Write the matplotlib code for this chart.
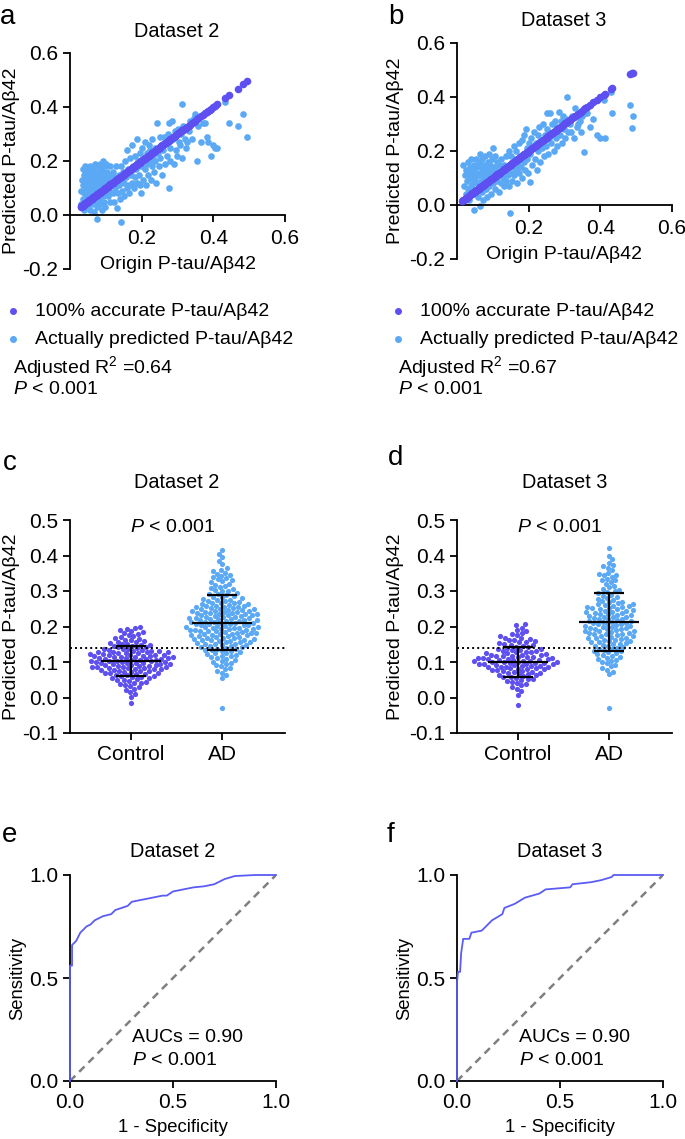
import numpy as np
import matplotlib
matplotlib.use('Agg')
import matplotlib.pyplot as plt
from matplotlib.lines import Line2D

plt.rcParams['font.family'] = ['Liberation Sans', 'DejaVu Sans']
plt.rcParams['mathtext.fontset'] = 'custom'
plt.rcParams['mathtext.rm'] = 'Liberation Sans'
plt.rcParams['mathtext.it'] = 'Liberation Sans:italic'

PURPLE = '#5E50F0'
BLUE = '#5BA9F5'
ROC_COL = '#5A5CF5'

########################################################################################################################
# DATA

# (origin, predicted) pairs, dataset 2
pts_a = [
    (0.030, 0.04), (0.032, 0.09), (0.033, 0.13), (0.035, 0.17), (0.035, 0.06), (0.037, 0.11), (0.038, 0.15),
    (0.040, 0.02), (0.040, 0.08), (0.041, 0.12), (0.042, 0.18), (0.043, 0.05), (0.044, 0.10), (0.045, 0.14),
    (0.046, 0.16), (0.047, 0.07), (0.048, 0.03), (0.049, 0.12), (0.050, 0.09), (0.050, 0.17), (0.051, 0.13),
    (0.052, 0.05), (0.053, 0.11), (0.054, 0.15), (0.055, 0.08), (0.055, 0.18), (0.056, 0.02), (0.057, 0.12),
    (0.058, 0.14), (0.059, 0.06), (0.060, 0.10), (0.060, 0.16),
    (0.061, 0.13), (0.062, 0.04), (0.063, 0.09), (0.064, 0.17), (0.065, 0.11), (0.066, 0.07), (0.067, 0.15),
    (0.068, 0.01), (0.068, 0.12), (0.069, 0.19), (0.070, 0.08), (0.071, 0.14), (0.072, 0.05), (0.073, 0.10),
    (0.074, 0.16), (0.075, -0.013), (0.075, 0.12), (0.076, 0.03), (0.077, 0.18), (0.078, 0.09), (0.079, 0.13),
    (0.080, 0.06), (0.081, 0.15), (0.082, 0.11), (0.083, 0.19), (0.084, 0.04), (0.085, 0.08), (0.086, 0.14),
    (0.087, 0.17), (0.088, 0.10), (0.089, 0.02), (0.090, 0.12),
    (0.091, 0.16), (0.092, 0.07), (0.093, 0.20), (0.094, 0.11), (0.095, 0.05), (0.096, 0.14), (0.097, 0.18),
    (0.098, 0.09), (0.099, 0.03), (0.100, 0.13), (0.101, 0.19), (0.102, 0.10), (0.104, 0.16), (0.105, 0.07),
    (0.106, 0.12), (0.108, 0.15), (0.110, 0.09), (0.111, 0.18), (0.113, 0.05), (0.115, 0.13), (0.117, 0.11),
    (0.119, 0.16), (0.120, 0.08),
    (0.122, 0.14), (0.124, 0.05), (0.126, 0.10), (0.128, 0.18), (0.130, 0.025), (0.132, 0.12), (0.134, 0.08),
    (0.136, 0.15), (0.138, 0.11), (0.140, 0.06), (0.142, -0.025), (0.142, 0.18), (0.144, 0.13), (0.146, 0.09),
    (0.148, 0.16), (0.150, 0.12), (0.152, 0.07), (0.154, 0.20), (0.156, 0.14), (0.158, 0.10), (0.160, 0.24),
    (0.162, 0.17), (0.164, 0.11), (0.166, 0.08), (0.168, 0.21), (0.170, 0.15), (0.172, 0.12), (0.174, 0.26),
    (0.176, 0.18), (0.178, 0.10), (0.180, 0.22), (0.182, 0.14), (0.184, 0.17), (0.186, 0.12), (0.188, 0.28),
    (0.190, 0.20), (0.192, 0.15), (0.194, 0.23), (0.196, 0.11), (0.197, 0.08), (0.199, 0.18),
    (0.202, 0.25), (0.204, 0.13), (0.206, 0.21), (0.208, 0.17), (0.210, 0.27), (0.212, 0.11), (0.214, 0.23),
    (0.216, 0.19), (0.218, 0.15), (0.220, 0.26), (0.222, 0.20), (0.224, 0.24), (0.226, 0.13), (0.228, 0.18),
    (0.230, 0.28), (0.232, 0.22), (0.234, 0.16), (0.236, 0.25), (0.238, 0.20), (0.240, 0.12), (0.243, 0.34),
    (0.245, 0.23), (0.247, 0.18), (0.250, 0.29), (0.252, 0.21), (0.255, 0.26), (0.258, 0.15), (0.260, 0.24),
    (0.262, 0.29), (0.265, 0.19), (0.268, 0.27), (0.270, 0.22), (0.273, 0.30), (0.275, 0.34), (0.276, 0.10),
    (0.278, 0.25), (0.280, 0.20),
    (0.285, 0.35), (0.288, 0.28), (0.290, 0.19), (0.292, 0.31), (0.294, 0.29), (0.297, 0.24), (0.299, 0.22),
    (0.302, 0.32), (0.305, 0.27), (0.308, 0.26), (0.310, 0.30), (0.313, 0.41), (0.313, 0.21), (0.316, 0.33),
    (0.320, 0.28), (0.323, 0.25), (0.327, 0.27), (0.331, 0.31), (0.335, 0.35), (0.340, 0.28), (0.345, 0.36),
    (0.350, 0.375), (0.355, 0.20), (0.358, 0.33),
    (0.365, 0.27), (0.370, 0.34), (0.378, 0.34), (0.382, 0.29), (0.386, 0.27), (0.390, 0.39), (0.393, 0.22),
    (0.400, 0.26), (0.405, 0.25), (0.410, 0.25), (0.433, 0.42), (0.443, 0.34), (0.468, 0.33), (0.484, 0.375),
    (0.495, 0.29),
]

# (origin, predicted) pairs, dataset 3
pts_b = [
    (0.015, 0.02), (0.018, 0.15), (0.020, 0.07), (0.022, 0.11), (0.024, 0.04), (0.026, 0.13), (0.028, 0.09),
    (0.030, 0.16), (0.031, 0.06), (0.033, 0.12), (0.034, 0.02), (0.036, 0.10), (0.037, 0.14), (0.039, 0.07),
    (0.040, 0.17), (0.042, 0.11), (0.043, 0.04), (0.045, 0.13), (0.046, 0.08), (0.047, -0.02), (0.048, 0.15),
    (0.050, 0.10), (0.051, 0.05), (0.053, 0.12), (0.054, 0.17), (0.056, 0.08), (0.057, 0.14), (0.058, 0.03),
    (0.060, 0.11),
    (0.061, 0.16), (0.062, 0.07), (0.063, 0.12), (0.065, -0.004), (0.065, 0.19), (0.066, 0.09), (0.067, 0.14),
    (0.069, 0.05), (0.070, 0.11), (0.071, 0.17), (0.072, 0.02), (0.073, 0.13), (0.075, 0.08), (0.076, 0.15),
    (0.077, 0.10), (0.079, 0.18), (0.080, 0.06), (0.081, 0.12), (0.082, 0.14), (0.084, 0.03), (0.085, 0.09),
    (0.086, 0.16), (0.088, 0.11), (0.089, 0.19), (0.090, 0.07), (0.092, 0.13), (0.093, 0.15), (0.095, 0.04),
    (0.096, 0.10), (0.097, 0.17), (0.098, 0.12), (0.100, 0.21),
    (0.101, 0.08), (0.102, 0.14), (0.104, 0.11), (0.105, 0.18), (0.107, 0.06), (0.108, 0.13), (0.110, 0.10),
    (0.111, 0.16), (0.113, 0.09), (0.115, 0.12), (0.116, 0.05), (0.118, 0.15), (0.120, 0.11), (0.122, 0.17),
    (0.124, 0.08), (0.126, 0.13), (0.128, 0.10), (0.130, 0.15), (0.132, 0.07), (0.134, 0.12), (0.136, 0.18),
    (0.138, 0.09), (0.140, 0.14),
    (0.142, 0.11), (0.144, 0.20), (0.146, 0.07), (0.147, -0.029), (0.148, 0.15), (0.150, 0.12), (0.152, 0.18),
    (0.154, 0.09), (0.156, 0.14), (0.158, 0.22), (0.160, 0.11), (0.162, 0.17), (0.164, 0.13), (0.166, 0.20),
    (0.168, 0.08), (0.170, 0.15), (0.172, 0.23), (0.174, 0.12), (0.176, 0.18), (0.178, 0.14), (0.180, 0.24),
    (0.182, 0.10), (0.184, 0.19), (0.186, 0.16), (0.188, 0.26), (0.190, 0.13), (0.192, 0.28), (0.194, 0.21),
    (0.196, 0.17), (0.198, 0.12), (0.200, 0.23),
    (0.203, 0.19), (0.205, 0.084), (0.207, 0.25), (0.210, 0.15), (0.212, 0.21), (0.215, 0.27), (0.217, 0.17),
    (0.220, 0.23), (0.222, 0.13), (0.225, 0.26), (0.227, 0.20), (0.230, 0.29), (0.232, 0.16), (0.235, 0.24),
    (0.237, 0.21), (0.240, 0.30), (0.242, 0.18), (0.245, 0.26), (0.247, 0.22), (0.250, 0.34), (0.252, 0.28),
    (0.255, 0.19), (0.258, 0.25), (0.260, 0.34), (0.262, 0.23), (0.265, 0.30), (0.268, 0.27), (0.270, 0.20),
    (0.273, 0.31), (0.275, 0.25), (0.278, 0.22), (0.280, 0.29),
    (0.284, 0.346), (0.287, 0.26), (0.290, 0.31), (0.293, 0.23), (0.296, 0.33), (0.299, 0.28), (0.302, 0.25),
    (0.305, 0.32), (0.307, 0.40), (0.310, 0.27), (0.314, 0.30), (0.318, 0.27), (0.322, 0.33), (0.326, 0.25),
    (0.330, 0.36), (0.334, 0.29), (0.338, 0.30), (0.342, 0.31), (0.346, 0.27), (0.350, 0.33), (0.354, 0.196),
    (0.358, 0.34),
    (0.363, 0.34), (0.372, 0.29), (0.380, 0.32), (0.390, 0.26), (0.400, 0.25), (0.409, 0.39), (0.412, 0.25),
    (0.430, 0.42), (0.432, 0.34), (0.484, 0.37), (0.488, 0.286), (0.490, 0.33),
]

adj_r2 = ['0.64', '0.67']

# predicted values per group
ctrl_c = [
    -0.015, 0.002, 0.010, 0.016, 0.021, 0.025, 0.029, 0.032, 0.035, 0.038,
    0.040, 0.042, 0.044, 0.046, 0.048, 0.050, 0.052, 0.054, 0.055, 0.057,
    0.058, 0.060, 0.061, 0.063, 0.064, 0.065, 0.067, 0.068, 0.069, 0.070,
    0.072, 0.073, 0.074, 0.075, 0.076, 0.077, 0.078, 0.079, 0.080, 0.081,
    0.082, 0.083, 0.084, 0.085, 0.086, 0.087, 0.088, 0.089, 0.090, 0.091,
    0.092, 0.093, 0.094, 0.095, 0.096, 0.097, 0.098, 0.099, 0.100, 0.101,
    0.102, 0.103, 0.104, 0.105, 0.106, 0.107, 0.108, 0.109, 0.110, 0.111,
    0.112, 0.113, 0.114, 0.115, 0.116, 0.117, 0.118, 0.119, 0.120, 0.121,
    0.122, 0.123, 0.124, 0.125, 0.126, 0.127, 0.128, 0.129, 0.130, 0.131,
    0.132, 0.133, 0.134, 0.136, 0.137, 0.138, 0.140, 0.141, 0.142, 0.144,
    0.145, 0.147, 0.148, 0.150, 0.151, 0.153, 0.155, 0.157, 0.159, 0.161,
    0.163, 0.165, 0.168, 0.170, 0.173, 0.176, 0.179, 0.182, 0.185, 0.188,
    0.191, 0.194, 0.197, 0.200,
    0.085, 0.092, 0.098, 0.104, 0.109, 0.115, 0.121, 0.127,
]
ad_c = [
    -0.030,
    0.055, 0.063, 0.070, 0.075, 0.080, 0.084, 0.088, 0.092, 0.095, 0.098,
    0.101, 0.104, 0.106, 0.109, 0.111, 0.114, 0.116, 0.118, 0.120, 0.122,
    0.124, 0.126, 0.128, 0.130, 0.132, 0.133, 0.135, 0.137, 0.138, 0.140,
    0.141, 0.143, 0.144, 0.146, 0.147, 0.149, 0.150, 0.152, 0.153, 0.155,
    0.156, 0.157, 0.159, 0.160, 0.161, 0.163, 0.164, 0.165, 0.167, 0.168,
    0.169, 0.171, 0.172, 0.173, 0.175, 0.176, 0.177, 0.178, 0.180, 0.181,
    0.182, 0.183, 0.185, 0.186, 0.187, 0.188, 0.190, 0.191, 0.192, 0.193,
    0.195, 0.196, 0.197, 0.198, 0.200, 0.201, 0.202, 0.203, 0.205, 0.206,
    0.207, 0.208, 0.210, 0.211, 0.212, 0.213, 0.215, 0.216, 0.217, 0.218,
    0.220, 0.221, 0.222, 0.223, 0.225, 0.226, 0.227, 0.229, 0.230, 0.231,
    0.233, 0.234, 0.235, 0.237, 0.238, 0.240, 0.241, 0.243, 0.244, 0.246,
    0.247, 0.249, 0.250, 0.252, 0.254, 0.256, 0.257, 0.259, 0.261, 0.263,
    0.265, 0.267, 0.269, 0.271, 0.274, 0.276, 0.279, 0.282, 0.285, 0.288,
    0.291, 0.295, 0.299, 0.303, 0.308, 0.313, 0.318, 0.324, 0.330, 0.336,
    0.342, 0.348, 0.355, 0.365, 0.375, 0.385, 0.395, 0.405, 0.415,
    0.152, 0.162, 0.171, 0.179, 0.184, 0.189, 0.194, 0.199, 0.204, 0.209,
    0.214, 0.219, 0.224, 0.228, 0.232, 0.236, 0.239, 0.242, 0.245, 0.248,
    0.251, 0.255, 0.258, 0.262, 0.266, 0.272, 0.278, 0.284, 0.292, 0.301,
    0.306, 0.311, 0.321, 0.327, 0.333, 0.339, 0.345, 0.352, 0.360,
]
ctrl_d = [
    -0.020, 0.008, 0.018, 0.025, 0.030, 0.034, 0.038, 0.041, 0.044, 0.047,
    0.049, 0.051, 0.053, 0.055, 0.057, 0.059, 0.061, 0.062, 0.064, 0.066,
    0.067, 0.069, 0.070, 0.072, 0.073, 0.074, 0.076, 0.077, 0.078, 0.080,
    0.081, 0.082, 0.083, 0.085, 0.086, 0.087, 0.088, 0.089, 0.090, 0.091,
    0.092, 0.093, 0.094, 0.095, 0.096, 0.097, 0.098, 0.099, 0.100, 0.101,
    0.102, 0.103, 0.104, 0.105, 0.106, 0.107, 0.108, 0.109, 0.110, 0.111,
    0.112, 0.113, 0.114, 0.115, 0.116, 0.118, 0.119, 0.120, 0.121, 0.123,
    0.124, 0.125, 0.127, 0.128, 0.129, 0.131, 0.132, 0.134, 0.135, 0.137,
    0.138, 0.140, 0.141, 0.143, 0.145, 0.147, 0.149, 0.151, 0.153, 0.155,
    0.157, 0.159, 0.161, 0.163, 0.165, 0.167, 0.169, 0.172, 0.175, 0.178,
    0.182, 0.186, 0.190, 0.196, 0.203, 0.208,
    0.079, 0.087, 0.094, 0.101, 0.108, 0.116,
]
ad_d = [
    -0.030,
    0.065, 0.072, 0.078, 0.083, 0.088, 0.092, 0.096, 0.100, 0.103, 0.106,
    0.109, 0.112, 0.115, 0.118, 0.120, 0.123, 0.125, 0.128, 0.130, 0.132,
    0.134, 0.136, 0.138, 0.140, 0.142, 0.144, 0.146, 0.148, 0.150, 0.152,
    0.154, 0.156, 0.158, 0.160, 0.162, 0.163, 0.165, 0.167, 0.169, 0.171,
    0.172, 0.174, 0.176, 0.178, 0.180, 0.181, 0.183, 0.185, 0.187, 0.188,
    0.190, 0.192, 0.194, 0.195, 0.197, 0.199, 0.201, 0.202, 0.204, 0.206,
    0.208, 0.209, 0.211, 0.213, 0.215, 0.216, 0.218, 0.220, 0.222, 0.224,
    0.226, 0.228, 0.230, 0.232, 0.234, 0.236, 0.238, 0.240, 0.242, 0.244,
    0.246, 0.248, 0.250, 0.252, 0.254, 0.256, 0.258, 0.260, 0.263, 0.266,
    0.269, 0.272, 0.275, 0.278, 0.281, 0.284, 0.287, 0.290, 0.294, 0.298,
    0.302, 0.306, 0.310, 0.315, 0.320, 0.325, 0.330, 0.335, 0.340, 0.345,
    0.350, 0.358, 0.366, 0.372, 0.380, 0.390, 0.400, 0.420,
    0.155, 0.168, 0.179, 0.186, 0.193, 0.200, 0.207, 0.214, 0.221, 0.227,
    0.233, 0.239, 0.245, 0.251, 0.257, 0.262, 0.268, 0.300, 0.330, 0.345,
    0.348, 0.370,
]
groups = ['Control', 'AD']
mean_c = [0.103, 0.211]
sd_c = [0.042, 0.078]
mean_d = [0.100, 0.213]
sd_d = [0.043, 0.081]
cutoff = 0.14

# ROC curves
fpr_e = [0, 0, 0.01, 0.01, 0.02, 0.03, 0.04, 0.05, 0.07, 0.08, 0.10, 0.12, 0.14, 0.16, 0.20, 0.22, 0.25,
         0.28, 0.30, 0.35, 0.40, 0.45, 0.47, 0.50, 0.55, 0.60, 0.65, 0.70, 0.75, 0.80, 0.90, 1.0]
tpr_e = [0, 0.56, 0.56, 0.66, 0.67, 0.68, 0.70, 0.72, 0.74, 0.75, 0.76, 0.78, 0.79, 0.80, 0.81, 0.83, 0.84,
         0.85, 0.87, 0.88, 0.89, 0.90, 0.90, 0.92, 0.93, 0.94, 0.945, 0.955, 0.98, 0.995, 1.0, 1.0]
fpr_f = [0, 0, 0.005, 0.015, 0.02, 0.03, 0.06, 0.07, 0.12, 0.15, 0.17, 0.22, 0.23, 0.28, 0.33, 0.40, 0.43,
         0.55, 0.56, 0.65, 0.70, 0.75, 0.76, 1.0]
tpr_f = [0, 0.48, 0.53, 0.53, 0.62, 0.69, 0.69, 0.72, 0.73, 0.76, 0.78, 0.81, 0.84, 0.86, 0.89, 0.91, 0.93,
         0.94, 0.955, 0.965, 0.975, 0.99, 1.0, 1.0]
auc = ['0.90', '0.90']

########################################################################################################################

W, H = 685, 1139
fig = plt.figure(figsize=(W / 100, H / 100), dpi=100)

TICK_FS = 15
TXT_FS = 14


def px_axes(l, t, r, b):
    return fig.add_axes([l / W, 1 - b / H, (r - l) / W, (b - t) / H])


def fig_text(x, y, s, **kw):
    fig.text(x / W, 1 - y / H, s, **kw)


def style(ax):
    for s in ['top', 'right']:
        ax.spines[s].set_visible(False)
    for s in ['left', 'bottom']:
        ax.spines[s].set_linewidth(1.3)
    ax.tick_params(direction='out', length=5, width=1.3, labelsize=TICK_FS, colors='black')


def ylabel(ax, text, x_axes, fs):
    ax.set_ylabel(text, fontsize=fs)
    ax.yaxis.label.set_va('center')
    ax.yaxis.set_label_coords(x_axes, 0.5)


def swarm(values, d, sy):
    # greedy beeswarm layout in pixel space
    ys = np.asarray(values) * sy
    xs = np.zeros(len(ys))
    placed = []
    for k, i in enumerate(np.argsort(ys)):
        y = ys[i]
        near = [(px, py) for px, py in placed if abs(py - y) < d]
        cands = [0.0]
        for px, py in near:
            dx = np.sqrt(d ** 2 - (py - y) ** 2)
            cands += [px + dx, px - dx]
        sgn = 1 if k % 2 else -1
        cands.sort(key=lambda c: (round(abs(c), 6), sgn * c))
        for c in cands:
            if all((c - px) ** 2 + (y - py) ** 2 >= d ** 2 - 1e-6 for px, py in near):
                xs[i] = c
                break
        placed.append((xs[i], y))
    return xs


YLAB = 'Predicted P-tau/A\u03b242'

# ---- a / b : scatter
for pts, box, ylx, r2 in [(pts_a, (70, 53, 285, 269), -0.274, adj_r2[0]),
                          (pts_b, (457, 43, 672, 259), -0.288, adj_r2[1])]:
    p = np.array(pts)
    ax = px_axes(*box)
    style(ax)
    ax.set_xlim(0, 0.6)
    ax.set_ylim(-0.2, 0.6)
    ax.spines['bottom'].set_position(('data', 0))
    ax.scatter(p[:, 0], p[:, 1], s=23, color=BLUE, lw=0, zorder=2, clip_on=False)
    ax.scatter(p[:, 0], p[:, 0], s=30, color=PURPLE, lw=0, zorder=3, clip_on=False)
    ax.set_xticks([0.2, 0.4, 0.6])
    ax.set_xticklabels(['0.2', '0.4', '0.6'])
    ax.set_yticks([-0.2, 0, 0.2, 0.4, 0.6])
    ax.set_yticklabels(['-0.2', '0.0', '0.2', '0.4', '0.6'])
    ax.tick_params(axis='x', pad=5)
    ax.text(0.3, -0.185, 'Origin P-tau/A\u03b242', ha='center', va='center', fontsize=TXT_FS)
    ylabel(ax, YLAB, ylx, TXT_FS)

    bx = 13 if box[0] < 300 else 398
    for yy, col, lab in [(311, PURPLE, '100% accurate P-tau/A\u03b242'),
                         (339, BLUE, 'Actually predicted P-tau/A\u03b242')]:
        fig.add_artist(Line2D([bx / W], [1 - yy / H], marker='o', ms=4, color=col, lw=0,
                              transform=fig.transFigure))
        fig_text(bx + 22, yy, lab, va='center', fontsize=TXT_FS)
    fig_text(bx, 367, 'Adjusted R$^2$ =' + r2, va='center', fontsize=TXT_FS)
    fig_text(bx, 390, r'$\it{P}$ < 0.001', va='center', fontsize=TXT_FS)

# ---- c / d : beeswarm
XL = (-0.667, 1.69)
for vals, means, sds, box, ylx in [((ctrl_c, ad_c), mean_c, sd_c, (70, 520, 285, 733), -0.274),
                                   ((ctrl_d, ad_d), mean_d, sd_d, (457, 520, 672, 733), -0.288)]:
    ax = px_axes(*box)
    style(ax)
    ax.set_xlim(*XL)
    ax.set_ylim(-0.1, 0.5)
    sx = (box[2] - box[0]) / (XL[1] - XL[0])
    sy = (box[3] - box[1]) / 0.6
    for gi, (v, col) in enumerate(zip(vals, [PURPLE, BLUE])):
        off = swarm(v, 5.0, sy) / sx
        ax.scatter(gi + off, v, s=14, color=col, lw=0, zorder=2, clip_on=False)
        ax.hlines(means[gi], gi - 0.33, gi + 0.33, color='black', lw=1.6, zorder=4)
        ax.vlines(gi, means[gi] - sds[gi], means[gi] + sds[gi], color='black', lw=1.6, zorder=4)
        for e in (-1, 1):
            ax.hlines(means[gi] + e * sds[gi], gi - 0.165, gi + 0.165, color='black', lw=1.6, zorder=4)
    ax.axhline(cutoff, color='black', ls=(0, (1, 1.6)), lw=1.4, zorder=3)
    ax.set_xticks([0, 1])
    ax.set_xticklabels(groups, fontsize=TICK_FS)
    ax.set_yticks([-0.1, 0, 0.1, 0.2, 0.3, 0.4, 0.5])
    ax.set_yticklabels(['-0.1', '0.0', '0.1', '0.2', '0.3', '0.4', '0.5'])
    ax.text(0.46, 0.48, r'$\it{P}$ < 0.001', ha='center', va='center', fontsize=TXT_FS)
    ylabel(ax, YLAB, ylx, TXT_FS)

# ---- e / f : ROC
for fpr, tpr, box, a in [(fpr_e, tpr_e, (70, 875, 276, 1081), auc[0]),
                         (fpr_f, tpr_f, (457, 875, 663, 1081), auc[1])]:
    ax = px_axes(*box)
    style(ax)
    ax.set_xlim(0, 1)
    ax.set_ylim(0, 1)
    ax.plot([0, 1], [0, 1], color='#808080', ls=(0, (3, 2.2)), lw=1.8, zorder=2)
    ax.plot(fpr, tpr, color=ROC_COL, lw=1.3, zorder=3, clip_on=False)
    ax.set_xticks([0, 0.5, 1])
    ax.set_xticklabels(['0.0', '0.5', '1.0'])
    ax.set_yticks([0, 0.5, 1])
    ax.set_yticklabels(['0.0', '0.5', '1.0'])
    ax.text(0.30, 0.21, 'AUCs = ' + a, va='center', fontsize=TXT_FS)
    ax.text(0.30, 0.10, r'$\it{P}$ < 0.001', va='center', fontsize=TXT_FS)
    ylabel(ax, 'Sensitivity', -0.256, 13.3)
    ax.set_xlabel('1 - Specificity', fontsize=13.3)
    ax.xaxis.label.set_va('center')
    ax.xaxis.set_label_coords(0.5, -0.228)

# ---- titles and panel letters
for x, y, s in [(177, 37, 'Dataset 2'), (564, 26, 'Dataset 3'), (177, 488, 'Dataset 2'),
                (565, 488, 'Dataset 3'), (173, 857, 'Dataset 2'), (560, 857, 'Dataset 3')]:
    fig_text(x, y, s, ha='center', va='baseline', fontsize=14.3)
for x, y, s in [(0, 24, 'a'), (388, 24, 'b'), (3, 470, 'c'), (388, 465, 'd'), (2, 842, 'e'), (387, 842, 'f')]:
    fig_text(x, y, s, ha='left', va='baseline', fontsize=20)

fig.savefig('out.png', dpi=100)
